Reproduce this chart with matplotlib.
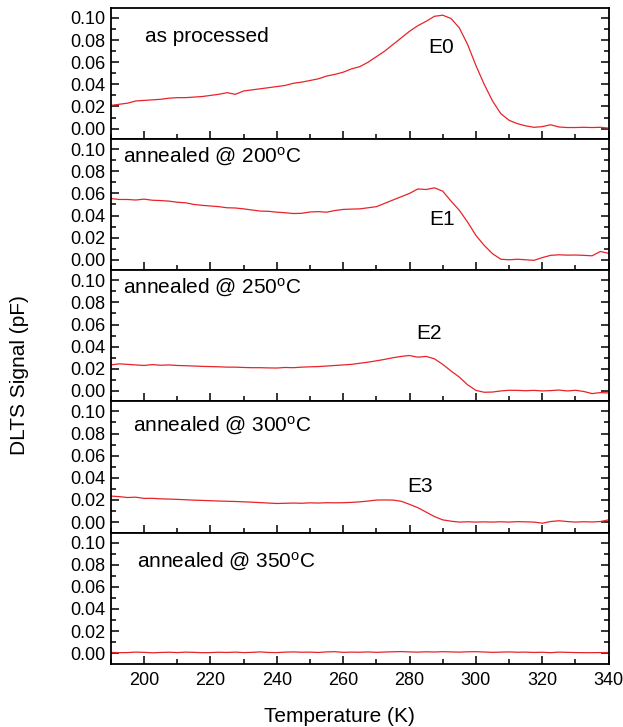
import matplotlib
matplotlib.use("Agg")
import matplotlib.pyplot as plt
from matplotlib.ticker import MultipleLocator, FormatStrFormatter

plt.rcParams['font.family'] = ['Liberation Sans', 'DejaVu Sans']
plt.rcParams['mathtext.fontset'] = 'custom'
plt.rcParams['mathtext.rm'] = 'Liberation Sans'
plt.rcParams['mathtext.it'] = 'Liberation Sans:italic'

temperature = [190 + 2.5 * i for i in range(61)]

as_processed = [
    0.0210, 0.0220, 0.0230, 0.0250, 0.0255, 0.0260, 0.0265, 0.0275, 0.0280, 0.0280,
    0.0285, 0.0290, 0.0300, 0.0310, 0.0325, 0.0310, 0.0340, 0.0350, 0.0360, 0.0370,
    0.0380, 0.0390, 0.0410, 0.0420, 0.0435, 0.0450, 0.0475, 0.0490, 0.0510, 0.0540,
    0.0560, 0.0600, 0.0650, 0.0700, 0.0760, 0.0820, 0.0880, 0.0930, 0.0970, 0.1015,
    0.1025, 0.0995, 0.0910, 0.0760, 0.0570, 0.0400, 0.0250, 0.0135, 0.0075, 0.0045,
    0.0025, 0.0012, 0.0018, 0.0035, 0.0015, 0.0010, 0.0010, 0.0012, 0.0010, 0.0012,
    0.0005,
]
annealed_200 = [
    0.0553, 0.0545, 0.0545, 0.0540, 0.0548, 0.0538, 0.0535, 0.0530, 0.0520, 0.0515,
    0.0500, 0.0492, 0.0486, 0.0480, 0.0470, 0.0468, 0.0460, 0.0450, 0.0440, 0.0438,
    0.0430, 0.0425, 0.0418, 0.0420, 0.0432, 0.0435, 0.0430, 0.0445, 0.0455, 0.0458,
    0.0460, 0.0470, 0.0480, 0.0510, 0.0540, 0.0570, 0.0600, 0.0640, 0.0635, 0.0650,
    0.0620, 0.0530, 0.0447, 0.0340, 0.0220, 0.0130, 0.0055, 0.0005, 0.0000, 0.0005,
    0.0000, -0.0005, 0.0020, 0.0040, 0.0045, 0.0042, 0.0043, 0.0040, 0.0036, 0.0075,
    0.0058,
]
annealed_250 = [
    0.0235, 0.0245, 0.0240, 0.0235, 0.0230, 0.0238, 0.0232, 0.0235, 0.0230, 0.0228,
    0.0225, 0.0222, 0.0220, 0.0218, 0.0215, 0.0215, 0.0212, 0.0210, 0.0210, 0.0208,
    0.0207, 0.0212, 0.0210, 0.0215, 0.0218, 0.0220, 0.0225, 0.0230, 0.0235, 0.0240,
    0.0250, 0.0260, 0.0272, 0.0285, 0.0300, 0.0312, 0.0320, 0.0305, 0.0312, 0.0290,
    0.0240, 0.0180, 0.0125, 0.0055, 0.0005, -0.0012, -0.0010, 0.0000, 0.0006, 0.0005,
    0.0002, 0.0005, 0.0000, 0.0003, 0.0008, 0.0000, 0.0006, -0.0005, -0.0024, -0.0015,
    -0.0018,
]
annealed_300 = [
    0.0235, 0.0230, 0.0222, 0.0225, 0.0214, 0.0215, 0.0210, 0.0208, 0.0205, 0.0202,
    0.0198, 0.0196, 0.0193, 0.0190, 0.0188, 0.0186, 0.0183, 0.0180, 0.0176, 0.0172,
    0.0168, 0.0170, 0.0172, 0.0170, 0.0174, 0.0172, 0.0175, 0.0174, 0.0175, 0.0178,
    0.0183, 0.0190, 0.0199, 0.0200, 0.0199, 0.0188, 0.0160, 0.0130, 0.0090, 0.0050,
    0.0020, 0.0008, 0.0000, 0.0003, 0.0000, 0.0002, 0.0000, 0.0003, 0.0000, 0.0004,
    0.0002, 0.0000, -0.0010, 0.0005, 0.0012, 0.0005, 0.0000, 0.0003, 0.0001, 0.0005,
    0.0020,
]
annealed_350 = [
    0.0008, 0.0005, 0.0006, 0.0010, 0.0008, 0.0004, 0.0007, 0.0009, 0.0006, 0.0010,
    0.0008, 0.0005, 0.0006, 0.0009, 0.0007, 0.0010, 0.0006, 0.0008, 0.0012, 0.0007,
    0.0006, 0.0010, 0.0012, 0.0009, 0.0010, 0.0007, 0.0012, 0.0014, 0.0008, 0.0010,
    0.0009, 0.0012, 0.0008, 0.0011, 0.0013, 0.0015, 0.0012, 0.0010, 0.0013, 0.0011,
    0.0014, 0.0012, 0.0010, 0.0013, 0.0014, 0.0011, 0.0008, 0.0010, 0.0012, 0.0009,
    0.0010, 0.0007, 0.0009, 0.0005, 0.0010, 0.0008, 0.0006, 0.0005, 0.0005, 0.0006,
    0.0007,
]

series = [as_processed, annealed_200, annealed_250, annealed_300, annealed_350]
panel_labels = ["as processed", r"annealed @ 200$^{\rm o}$C", r"annealed @ 250$^{\rm o}$C",
                r"annealed @ 300$^{\rm o}$C", r"annealed @ 350$^{\rm o}$C"]
label_pos = [(200.2, 0.0836), (193.6, 0.0927), (193.6, 0.093), (196.6, 0.087), (197.8, 0.0826)]
peak_labels = ["E0", "E1", "E2", "E3", None]
peak_pos = [(285.7, 0.0736), (286.0, 0.036), (282.0, 0.052), (279.3, 0.032), None]

fig = plt.figure(figsize=(6.23, 7.27), dpi=100)
axes = fig.subplots(5, 1, sharex=True)
fig.subplots_adjust(left=0.178, right=0.977, top=0.989, bottom=0.087, hspace=0)

line_color = "#e8232a"
for i, ax in enumerate(axes):
    ax.plot(temperature, series[i], color=line_color, lw=0.9)
    ax.set_xlim(190, 340)
    ax.set_ylim(-0.0095, 0.109)
    ax.yaxis.set_major_locator(MultipleLocator(0.02))
    ax.yaxis.set_minor_locator(MultipleLocator(0.01))
    ax.yaxis.set_major_formatter(FormatStrFormatter('%.2f'))
    ax.xaxis.set_major_locator(MultipleLocator(20))
    ax.xaxis.set_minor_locator(MultipleLocator(10))
    ax.tick_params(axis='y', which='both', direction='in', left=True, right=True,
                   labelsize=13, pad=4)
    ax.tick_params(axis='y', which='major', length=6, width=1.1)
    ax.tick_params(axis='y', which='minor', length=3.5, width=1.1)
    ax.tick_params(axis='x', which='both', direction='in', bottom=True, top=False,
                   labelsize=13, pad=6)
    ax.tick_params(axis='x', which='major', length=6, width=1.1)
    ax.tick_params(axis='x', which='minor', length=3.5, width=1.1)
    for sp in ax.spines.values():
        sp.set_linewidth(1.3)
    lx, ly = label_pos[i]
    ax.text(lx, ly, panel_labels[i], fontsize=15, va='center', ha='left')
    if peak_labels[i]:
        px, py = peak_pos[i]
        ax.text(px, py, peak_labels[i], fontsize=15, va='center', ha='left')

fig.text(0.032, 0.484, "DLTS Signal (pF)", rotation=90, fontsize=15, va='center', ha='center')
fig.text(0.545, 0.015, "Temperature (K)", fontsize=15, va='center', ha='center')

fig.savefig("out.png", dpi=100)
